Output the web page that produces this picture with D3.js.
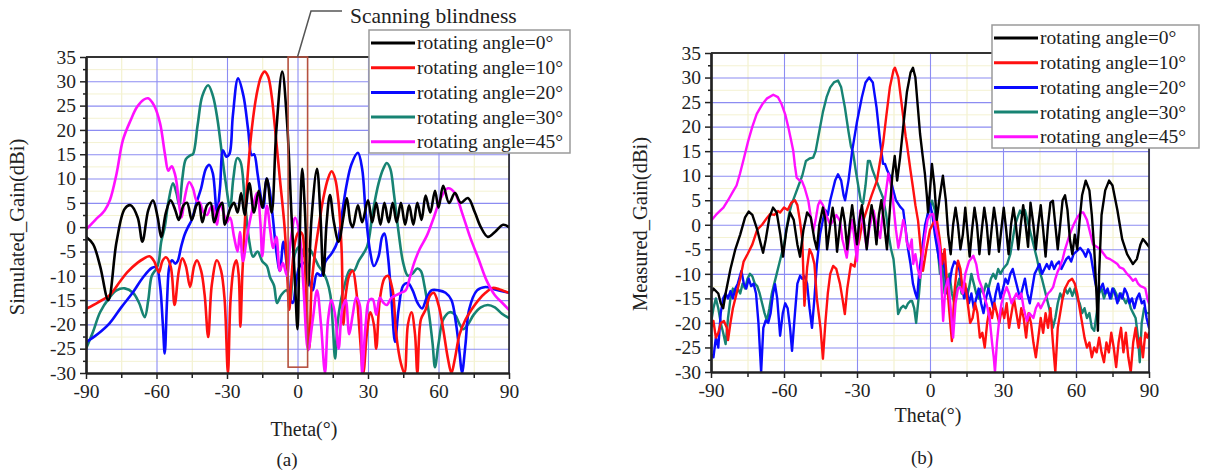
<!DOCTYPE html>
<html><head><meta charset="utf-8">
<script src="https://cdn.jsdelivr.net/npm/d3@7"></script>
<style>
body{margin:0;background:#fff;}
svg{display:block;}
text{font-family:"Liberation Serif","Times New Roman",serif;fill:#222;}
</style>
</head><body><svg id="c" width="1207" height="474"></svg>
<script>
// ---------------- data ----------------
const thetaTicks = [-90,-60,-30,0,30,60,90];
const thetaMinor = [-75,-45,-15,15,45,75];
const gainTicks = [-30,-25,-20,-15,-10,-5,0,5,10,15,20,25,30,35];
const gainMinor = [-27.5,-22.5,-17.5,-12.5,-7.5,-2.5,2.5,7.5,12.5,17.5,22.5,27.5,32.5];
const legendLabels = ["rotating angle=0°","rotating angle=10°","rotating angle=20°","rotating angle=30°","rotating angle=45°"];
const seriesColors = ["#000000","#ff1010","#0a0aff","#178373","#ff10ff"];

// Simulated gain (dBi) vs theta (deg)
const sim0 = [[-90,-2],[-87,-3.5],[-84,-8],[-80.5,-15],[-77,-3],[-73.5,3.8],[-71,4.5],[-68,2],[-66,-3],[-63.5,3.5],[-61.5,5.5],[-59.5,2],[-58,-2],[-56,3],[-54,5.5],[-52,3.5],[-50.5,1.5],[-48.5,4.5],[-47,5],[-45,1.5],[-43,4.5],[-42,5],[-40.5,1],[-38.5,4.5],[-37,5],[-35.5,1],[-33.5,4],[-32,5],[-31,0.5],[-28.5,4],[-27,5],[-25.5,3],[-24,7],[-22.5,2.5],[-20.5,9],[-18.5,3],[-16.5,7.5],[-15,4],[-13,10],[-11,3],[-9,20],[-6.5,32],[-4.5,22],[-2.5,2],[-1,-12],[0,-21],[0.8,-5],[2,12],[3.2,3],[4.5,-12],[6,2],[8.3,12],[9.8,2],[11,-10],[12.4,1],[13.8,6.6],[15.5,1],[17.5,-3],[19.5,2],[21,6],[22.5,1],[23.5,0],[25.7,4.5],[27.5,1],[30,5.5],[31.8,1],[33.5,5],[35.3,0.5],[37,5],[38.8,1],[40.5,5],[42.2,1],[44,5],[45.8,0.5],[47.5,4.5],[49.3,0.5],[51,5],[52.8,1.5],[54.5,6.5],[56.5,3],[58.5,7.5],[60,4],[62,8.5],[64.5,5],[67,7],[69.5,5],[72.5,6],[75.5,3],[78,0],[81,-2],[84,-1],[87.5,0.5],[90,0]];
const sim10 = [[-90,-16.8],[-85,-15.5],[-80,-14],[-76,-11.5],[-72.5,-9.3],[-68,-7.3],[-65.5,-6.5],[-63,-6],[-61,-7],[-59,-9.3],[-57.5,-7],[-56,-6.2],[-54,-8],[-52.3,-16],[-50.5,-9],[-49,-6.4],[-47.5,-8],[-45.7,-12.3],[-44,-8],[-42.8,-6.8],[-41,-9],[-39.5,-14],[-38,-22.6],[-36.5,-12],[-34.3,-6.8],[-32.5,-9],[-31,-15],[-29.6,-30],[-28.5,-15],[-27,-8],[-26,-6.8],[-25,-10],[-24.3,-20.5],[-23.5,-10],[-22.5,0],[-21.3,10],[-19.5,20],[-17.5,27],[-15.5,31],[-14,32],[-12.5,31],[-11,27],[-9.5,20],[-7.5,10],[-5.5,0],[-4.5,-8],[-3.5,-17],[-2.5,-10],[-1,-3],[0.5,-1],[1.9,-1.3],[3,-6],[4,-18],[5,-25],[6,-12],[7.5,-5],[9,0],[11,6],[13,10],[14.5,11.5],[16,10],[17.5,5],[18.8,-5],[19.5,-20],[20.5,-14],[22,-10],[23.5,-9],[25,-13],[26.5,-22],[28,-30],[29.5,-22],[31,-17.5],[32.5,-20],[33.5,-25],[35,-15],[37,-10.5],[38.5,-10],[40.5,-13],[42,-22],[44,-28],[45.5,-30],[47,-20],[48.5,-17.5],[50,-22],[51,-30],[52.5,-19],[54.5,-17],[56.5,-14],[58,-13.5],[60,-16],[62,-21],[64,-27],[65.5,-30],[67,-27],[69,-22],[71.5,-19],[74,-17],[77,-15],[80,-13.5],[83,-12.5],[86,-12.8],[90,-13.5]];
const sim20 = [[-90,-23.7],[-85,-22],[-80,-19.8],[-75,-16.5],[-70,-13.4],[-66,-10.5],[-62,-8.4],[-60,-8.3],[-58.5,-12],[-57.3,-20],[-56.5,-26],[-55.5,-15],[-54.5,-8],[-53.4,-6.8],[-52,-7.5],[-51,-7],[-49.5,-4],[-48,-1.5],[-46.6,0],[-45,1.5],[-43,5],[-41,8],[-39,12],[-37.5,12.8],[-36,11],[-34.3,3],[-33,8],[-31.7,15.8],[-30.3,14.5],[-29,15],[-27.5,23],[-25.3,30.6],[-23,27],[-21,20],[-19.5,14.8],[-18.5,15],[-17,11],[-15.5,6],[-14.5,4],[-13.2,10],[-12,8],[-10.5,2],[-9,-5],[-7.5,-9],[-6,-3],[-4.5,-8],[-3,-15],[-2,-15.6],[-0.5,-11],[1,-8],[3.2,-7.4],[5.5,-12],[6.5,-13],[8.3,-9.5],[10,-10],[12,-7],[14.7,-5.3],[17,-3],[19,3],[21,9],[23,13],[25.7,15.3],[27.5,12],[29,3],[30.9,-5],[32.5,-8],[34.5,-6],[36,-2],[37,-1.3],[38.5,-6],[40,-15],[41.5,-23.6],[43,-17],[45,-12],[47,-11.5],[49,-13],[51,-15.5],[53,-16.7],[55,-14.5],[57,-13],[60,-13],[63,-13.5],[65.5,-15],[67.5,-20],[69,-26],[70,-30],[71.5,-24],[73,-17],[76.4,-13],[80,-12.3],[84,-12.8],[90,-13.5]];
const sim30 = [[-90,-25],[-87,-21.5],[-84,-17.5],[-80,-14.5],[-77,-13],[-73.5,-12.6],[-70,-13.5],[-67.5,-15.5],[-65,-18.5],[-63.5,-15],[-62,-10],[-60,-8.5],[-59,-7],[-58,-3],[-56.5,0],[-55,5],[-53,9],[-51.5,7],[-50.3,4.5],[-49,10],[-47.5,14],[-45.5,14.8],[-44.5,15],[-42.5,21],[-40.5,27],[-38,29.2],[-36,27],[-34,22],[-32.1,14.8],[-30.5,9],[-28.7,4],[-27.3,10],[-25.7,14.2],[-24.3,13.5],[-22.5,6],[-20.5,-3],[-18.9,-6.1],[-17,-5],[-15,-7],[-13,-8],[-11.7,-10.3],[-10,-12],[-8.7,-15.6],[-7,-14],[-4.5,-13],[-3.2,-15.4],[-1,-5.3],[1,-4],[3,-6],[5,-4.5],[7,-6],[9,-8],[10.8,-9.2],[12.5,-11],[14,-14],[15,-20],[16,-27],[17,-20],[18.5,-15],[20,-12],[22.3,-8.8],[24,-9],[26,-7],[29.6,-4],[32,3],[34.5,9],[36.5,12],[38,13.2],[39.5,12],[41,7],[43,-1],[45,-7.4],[47,-10],[49,-9.5],[51,-8.5],[52.5,-9],[54,-12],[56,-18],[57.5,-24],[58.5,-28.8],[60,-24],[62,-19],[64.8,-17.5],[67,-18],[69,-20],[70.5,-21],[72.5,-20],[75,-18],[78,-16.5],[81,-16],[84,-16.5],[87,-17.8],[90,-18.7]];
const sim45 = [[-90,-0.5],[-86,1.5],[-82,3.5],[-79.8,5.6],[-77,11],[-74.3,17.9],[-71,22],[-68.3,24.7],[-65.5,26.2],[-63.6,26.5],[-61,25],[-58.5,21.4],[-56.4,15],[-55,11.6],[-54,12.3],[-53.4,12.5],[-52.2,11],[-51.4,9],[-50.2,4],[-49.3,2],[-48,6],[-46.1,9.3],[-44.5,8],[-43,5.5],[-41.5,5],[-40,3],[-38.5,2.5],[-37,4],[-36,4.3],[-35,2],[-34.2,0.5],[-33,5],[-31.5,3],[-30,1],[-28.7,2],[-27,-2],[-25.5,-5],[-24.5,-1],[-23.2,-7],[-21.5,-2],[-19.5,3],[-17.2,7],[-15.8,1],[-15,-6],[-14,0],[-13,4.4],[-11.5,-1],[-10.4,-4.3],[-9,-2],[-7.5,-9],[-6.2,-7.4],[-4.5,-10],[-3,-3],[-1,1.9],[1,-2],[2.5,-12],[4.5,-25.3],[6.5,-19],[8.3,-13],[10,-20],[11.7,-30],[13,-19],[14.5,-15],[16,-18],[17.5,-25],[19,-17],[20.5,-15],[22,-22],[23.5,-18],[25,-14.5],[26.5,-16],[27.5,-30],[29,-20],[30.5,-15],[32,-14.8],[33.5,-18],[35,-14.5],[36.5,-15.5],[38,-16],[40,-14.5],[42,-14],[44,-13.5],[46,-13],[48,-10],[49.6,-7.4],[52,-4.5],[55,-1.8],[58,2],[61,6],[64,8],[67,7],[70,3],[73.4,-2],[77,-6.5],[80.5,-11],[84,-14],[87,-15.5],[90,-17]];

// Measured gain (dBi) vs theta (deg)
const meas0 = [[-90,-14],[-89,-13],[-88,-13.5],[-87,-14],[-86,-16],[-85,-17],[-84,-14],[-82,-9],[-80,-5],[-78,-2],[-76,1.5],[-74.5,2.7],[-73,2],[-71,-1],[-69.5,-4],[-68.6,-5.7],[-67.5,-3],[-66,1.5],[-64.5,3.5],[-63,2.5],[-61.5,-2],[-60.4,-6.5],[-59,-1],[-57.5,2.5],[-56,1],[-54.5,-4],[-53.4,-6.5],[-52,-1],[-50.5,2.5],[-49,1.5],[-47.5,-3],[-46.5,-5],[-45.5,0],[-44,3.5],[-43,1],[-42.3,-5],[-41,0],[-40,3.5],[-39,0],[-38.2,-5.5],[-37,0],[-36,3.5],[-35,0.5],[-34,-5],[-33,0],[-32,4],[-31,0],[-30,-4],[-29,1],[-28,4],[-27,0],[-26,-5],[-25,0],[-24,4],[-23,1],[-22,-4],[-21,2],[-20,5],[-19,1],[-17.7,-5],[-16.5,3],[-15.5,10],[-14.5,14],[-13.5,9],[-12.3,13.7],[-11,20],[-9.5,27],[-8,31],[-7,32],[-6,30],[-5,24],[-4.1,18.6],[-3,14],[-2.1,10.4],[-1.3,6],[-0.8,2.5],[0,7],[0.8,12.4],[1.8,8],[2.8,1],[3.8,5],[5.3,10],[6.5,5],[7.5,-2],[8.5,-6],[9.5,0],[10.5,3.5],[11.5,0],[12.5,-5],[13.5,-2],[14.5,3.5],[15.3,-1],[16.3,-6.5],[17.3,-1],[18.3,3.5],[19.3,0],[20.3,-6],[21.3,-1],[22.3,3.5],[23.3,0],[24.3,-6],[25.3,-1],[26.3,3.5],[27.3,0],[28.3,-5.5],[29.3,-1],[30.3,3.5],[31.3,-1],[32.3,-6],[33.3,0],[34.3,3.5],[35.3,0],[36.3,-5],[37.3,0],[38.3,4],[39.3,0],[40.3,-4.5],[41.3,4.5],[42.5,0],[43.5,-5],[44.5,0],[45.5,4],[46.5,-1],[47.5,-6.5],[48.5,0],[49.5,4.5],[50.5,4.9],[51.5,0],[52.5,-5],[53.5,0],[54.5,5],[55.5,6],[56.5,3],[57.5,-3],[58.5,-6],[59.5,-2],[60.5,-5],[61.5,1],[62.5,6],[64,9],[65.5,7],[66.5,2],[67.5,-5],[68.5,-15],[69,-21.6],[69.5,-10],[70.5,2],[72,7],[73.6,9],[75,8],[77,3],[79,-3],[81,-6],[83.4,-8],[85,-7],[86.5,-4],[87.5,-2.9],[88.5,-3.5],[90,-4.5]];
const meas10 = [[-90,-21],[-89,-19.6],[-88,-23],[-87,-22],[-86,-20],[-84.7,-19.6],[-83.5,-21],[-83,-23.5],[-82,-20],[-81,-17],[-80,-15],[-79,-13],[-78,-11],[-76.6,-7.5],[-75,-6],[-73,-4],[-71,-1],[-69,0],[-67,1.4],[-65.7,2.2],[-64,2],[-62.5,2.8],[-61.6,2.5],[-60,3.5],[-58.5,3],[-57,4.5],[-55.5,5],[-54.5,4],[-53.5,1],[-52.5,-3],[-51.6,-16.5],[-50.5,-8.7],[-49.5,-5],[-48.5,-6],[-47.5,-8],[-46.5,-15],[-45,-21],[-44,-27.3],[-43,-20],[-42,-14],[-41,-10],[-39.8,-8.4],[-38.5,-9],[-37,-12],[-36,-15],[-35,-18.2],[-34,-13],[-32.5,-8],[-31,-8.5],[-30,-5],[-29,-3],[-28,0],[-26,3],[-24,6],[-21.8,9],[-20.5,13],[-19.3,16.5],[-18,22],[-16.5,28],[-15,31.5],[-14.4,32],[-13,30],[-11.5,24],[-10,18],[-9.5,16.5],[-8,11],[-7,7.6],[-6,4],[-4.9,0.8],[-4,-4],[-2.9,-9.4],[-1.5,-5],[0,-1],[1.5,0.5],[2.9,0.8],[4,-3],[5,-8],[6,-5],[7,-12],[8,-18],[9,-23.7],[10,-14],[11,-9],[11.5,-7.3],[12.5,-9],[13.5,-14],[14.5,-12],[15.5,-16],[16.5,-20],[17.5,-19],[18.5,-16],[19.5,-18],[20.5,-23],[21.5,-22],[22.5,-25],[23.5,-20],[24.5,-17],[25.5,-19],[26.5,-16],[27.5,-18],[28.5,-20],[29.5,-17],[30.5,-19],[31.5,-16],[32.5,-21],[33.5,-18],[34.5,-15],[35.5,-18],[36.5,-21],[37.5,-17],[38.5,-19],[39.5,-23],[40.5,-18],[41.5,-20],[42.5,-24],[43.5,-27],[44.5,-23],[45.5,-19],[46.5,-22],[47.5,-18],[48.5,-21],[49.5,-17],[50.5,-24],[51.5,-30],[52.5,-21],[53.5,-18],[54.5,-15],[55.5,-13],[57,-11.5],[58.4,-11],[59.5,-12],[60.5,-14],[61.5,-17],[62.5,-20],[63.5,-23],[64.5,-25],[65.5,-24],[66.5,-27],[67.5,-25],[68.5,-26],[69.5,-23],[70.5,-26],[71.5,-28],[72.5,-24],[73.5,-26],[74.5,-22],[75.5,-25],[76.5,-29],[77.5,-24],[78.5,-21],[79.5,-26],[80.5,-22],[81.5,-27],[82.5,-30],[83.5,-24],[84.5,-21],[85.5,-25],[86.5,-23],[87.5,-27],[88.5,-22],[89.3,-23],[90,-22]];
const meas20 = [[-90,-26.4],[-89,-27],[-88,-23],[-87,-25],[-86,-18],[-85,-15],[-84,-14],[-83,-15],[-82,-13.5],[-81,-15],[-80,-13],[-79,-12],[-77.5,-9.4],[-76.5,-12],[-75.5,-13],[-74.5,-11],[-73.5,-12.5],[-72.5,-12],[-71.5,-14],[-70.5,-20],[-69.4,-30],[-68.5,-21],[-67.5,-19.5],[-66.5,-20],[-65.5,-18],[-64.5,-14],[-63.7,-12.1],[-62.8,-15],[-61.6,-22.6],[-60.5,-18],[-59.5,-16],[-58.5,-17],[-57.5,-21],[-56.7,-25.7],[-55.5,-18],[-54.5,-12],[-53.4,-10.4],[-52.5,-11],[-51.5,-10.5],[-50.5,-12],[-49.5,-17],[-48.5,-21],[-47.5,-15],[-46.5,-8],[-45.2,-2],[-44,1],[-43,3],[-42,2],[-41,5],[-40,7],[-39,9],[-37.8,10.3],[-36.5,9],[-35.5,6],[-34.9,5],[-33.5,9],[-32,15],[-30,21],[-28,26],[-26.5,29],[-25,30],[-23.5,29],[-22,24],[-20.5,17],[-19.3,12.4],[-18.5,12.4],[-17.5,11],[-16.5,10],[-15.1,7],[-14,5],[-12.3,3.7],[-11,3],[-10,-1],[-9,-5],[-8,-8],[-7,-12],[-6,-14],[-5.3,-15],[-4.5,-10],[-3.5,-6],[-2,0],[-1,2],[0,4.3],[1,2],[2,-2],[3,-5],[4.1,-8],[5,-6],[6,-9],[7,-14],[8,-12],[9,-9],[10,-7.5],[11,-8],[12,-9],[13,-12],[14,-15],[15,-13],[16,-16],[17,-14],[18,-17],[19,-15],[20,-13],[21,-16],[22,-18],[23,-15],[24,-13],[25,-15],[26,-17],[27,-14],[28,-12],[29,-15],[30,-13],[31,-11],[32,-12],[33,-10],[34,-9],[35,-11],[36,-13],[37,-15],[38,-13],[39,-11],[40,-14],[41,-16],[42,-13],[43,-10],[44,-9],[45,-8],[46,-10],[47,-9],[48,-8],[49,-9],[50,-7.5],[51,-9],[52,-8],[53,-7.5],[54,-9],[55,-8],[56,-7],[57,-6.5],[58,-7.5],[59,-6],[60,-5.5],[61.7,-4.7],[63,-5.5],[64,-6.5],[65,-5],[66,-6],[67,-9],[68,-12],[69,-14],[70,-13],[71,-12],[72,-14],[73,-13],[74,-15],[75,-13],[76,-14],[77,-16],[78,-14],[79,-15],[80,-13],[81,-14],[82,-16],[83,-15],[84,-17],[85,-15],[86,-14],[87,-16],[88,-15.5],[89,-19],[90,-21]];
const meas30 = [[-90,-20],[-89,-17],[-88,-15],[-87,-17],[-86,-20],[-85,-22],[-84,-24.3],[-83,-19],[-82,-15],[-81,-13],[-80,-14],[-79,-13],[-78,-14],[-77,-12],[-76,-13],[-75,-11],[-74,-10],[-73,-10.5],[-72,-12],[-71,-12.5],[-70,-14],[-69,-16],[-68,-18],[-67,-19.6],[-66,-17],[-65,-14],[-64,-12],[-63,-10],[-62,-8],[-61,-6],[-60,-4],[-59,-1],[-58,2],[-57,4],[-55.5,6],[-54,8],[-52.5,10],[-51,13],[-49.5,13.5],[-48,13.7],[-47,15],[-45.5,19],[-44,23],[-42.5,26],[-41,28],[-39.5,29],[-37.8,29.4],[-36.5,28],[-35,24],[-33.5,19],[-32.5,16],[-31.6,14.7],[-30.5,11],[-29.5,8],[-28.5,5],[-27.5,4.3],[-26.5,8],[-25.5,13],[-24.7,13],[-23.5,11],[-22,9],[-20.5,7],[-19.3,5.5],[-18,2],[-17,-2],[-16,-5],[-15,-7],[-14.4,-10],[-13.1,-18.2],[-12,-17],[-11,-16.5],[-10,-17],[-9,-16],[-8,-15.5],[-7.4,-15.5],[-6.5,-17],[-5.7,-20],[-4.5,-14],[-3.5,-8],[-2.5,-3],[-1,2],[0.8,4.9],[2,3],[3,-4],[4.1,-10],[5,-8],[6,-14],[7,-12],[8,-10],[9,-14],[10,-16],[11,-13],[12,-11],[13,-14],[14,-12],[15,-15],[16,-13],[17,-10],[18,-12],[19,-14],[20,-15],[21,-13],[22,-14],[23,-12],[24,-13],[25,-11],[26,-10],[27,-11],[28,-9],[29,-10],[30,-9],[31.7,-8],[33,-6],[34,-3],[35,0],[36,1.5],[37,2.9],[38,2],[39,3],[40,1],[41,-1],[42,-3],[43,-5],[44,-7],[45,-9.4],[46,-11],[47,-13],[48,-15],[49,-17],[50.5,-21],[51.5,-19],[52.5,-16],[53.5,-14],[54.5,-15],[55.5,-13],[56.5,-14],[57.5,-13],[58.5,-14.5],[59.5,-13],[60.5,-15],[61.5,-16],[62.5,-18],[63.5,-17],[64.5,-19],[65.5,-18],[66.5,-21],[67.5,-21.6],[68.5,-18],[69.5,-14],[70.5,-13],[71.5,-15],[72.5,-13.5],[73.5,-14],[74.5,-15],[75.5,-13],[76.5,-14],[77.5,-15.5],[78.5,-14],[79.5,-15],[80.5,-16],[81.5,-15],[82.5,-17],[83.5,-18],[84.5,-19],[85.5,-23],[86.2,-28],[87,-20],[88,-17],[89,-18],[90,-18]];
const meas45 = [[-90,0.8],[-88,2],[-86,3],[-84.9,3.5],[-83,5],[-80.8,6.9],[-79.5,8],[-78.1,10.4],[-76.5,13.5],[-74.7,17.1],[-73,20],[-71.2,22.6],[-69,24.5],[-67.1,25.7],[-64.4,26.5],[-62.5,26],[-61,24.6],[-59.5,22.5],[-58.2,19.8],[-57,17],[-56.2,15.1],[-55.5,12],[-54.8,9.6],[-53.5,9],[-52.7,9],[-51.5,7.5],[-50,4.9],[-48.8,1],[-47.9,-1.2],[-47,1],[-46,4],[-45.2,4.9],[-44,4],[-42.5,1.8],[-41,0],[-39.7,0.8],[-38.5,2],[-37,0.8],[-36,-3],[-35,-5],[-34.2,-6.7],[-33,-2],[-32,1],[-31,-3],[-30,-7.4],[-29.3,-2],[-28.7,2.9],[-27.5,0],[-26,-4.7],[-25,-1],[-24,1.5],[-23.2,2.9],[-22,0],[-20.5,-2.7],[-19.5,2],[-18.3,6],[-17.1,10.4],[-16,8],[-15.1,4.3],[-14,-1],[-13,-4.7],[-12,-2],[-11,1],[-10,-1],[-9.6,-3.5],[-8.5,-5],[-7.5,-3],[-6.9,-8],[-6,-6],[-5,-9],[-4.1,-10.8],[-3,-6],[-2,-2],[-1,1],[0,2],[1.3,2.2],[2.5,-1],[4,-4.7],[5.4,-19.6],[6.3,-13],[7.4,-11],[8.5,-17],[9.5,-23],[10.5,-16],[11.5,-13],[12.3,-12.7],[13.5,-14],[14.5,-10],[16,-7.5],[17.8,-6.3],[19,-8],[20,-11],[21.5,-13],[22.5,-15],[23.3,-16.2],[24.5,-19],[25.5,-24],[26.2,-27],[26.7,-30],[27.5,-24],[28.5,-19],[29.4,-16],[30.5,-14],[31.5,-12.7],[32.5,-14],[33.5,-16],[34.2,-15.3],[35.5,-14],[36.5,-15],[37.5,-14],[38.5,-17],[39.8,-19.6],[40.8,-18],[42.5,-19],[43.5,-17],[44.5,-16],[45.5,-17],[46.5,-16],[47.5,-15],[48.5,-14],[49.5,-13.5],[50.6,-12.7],[51.5,-11],[52.5,-9.5],[53.3,-8.7],[54.5,-7],[55.5,-5],[57.4,-2],[59,0],[60.5,1.5],[62,2.5],[63,2.5],[64.5,1],[65.5,-1],[67,-4],[68.5,-4.5],[70,-5],[71.5,-6],[72.5,-6.7],[74,-7],[75.5,-7.5],[77,-8],[78,-8.7],[79.5,-9],[81,-10],[82,-10.5],[83.4,-11.4],[84.5,-11],[85.5,-12],[86.5,-12.5],[87.5,-12.7],[88.5,-13],[89.3,-15],[90,-16]];

const simSeries = [sim0, sim10, sim20, sim30, sim45];
const measSeries = [meas0, meas10, meas20, meas30, meas45];
const blindRegion = {theta:[-4, 4.3], gain:[35, -28.8]};

// ---------------- drawing ----------------
const FONT = '"Liberation Serif","Times New Roman",serif';
const svg = d3.select("#c");
const drawOrder = [3, 2, 1, 4, 0];
const fmt = d => String(d);

function panel(cfg) {
  const x = d3.scaleLinear().domain([-90, 90]).range([cfg.x0, cfg.x1]);
  const y = d3.scaleLinear().domain([-30, 35]).range([cfg.y0, cfg.y1]);
  const W = cfg.x1 - cfg.x0, H = cfg.y0 - cfg.y1;
  const g = svg.append("g");

  // minor grid (faint yellow)
  g.append("g").attr("transform", `translate(0,${cfg.y0})`)
    .call(d3.axisBottom(x).tickValues(thetaMinor).tickSize(-H).tickFormat(""))
    .call(s => { s.select(".domain").remove(); s.selectAll("line").attr("stroke", "#f1efc6").attr("stroke-width", 1); });
  g.append("g").attr("transform", `translate(${cfg.x0},0)`)
    .call(d3.axisLeft(y).tickValues(gainMinor).tickSize(-W).tickFormat(""))
    .call(s => { s.select(".domain").remove(); s.selectAll("line").attr("stroke", "#f4f2d2").attr("stroke-width", 1); });
  // major grid (blue)
  g.append("g").attr("transform", `translate(0,${cfg.y0})`)
    .call(d3.axisBottom(x).tickValues(thetaTicks).tickSize(-H).tickFormat(""))
    .call(s => { s.select(".domain").remove(); s.selectAll("line").attr("stroke", "#8c8cf2").attr("stroke-width", 1.1); });
  g.append("g").attr("transform", `translate(${cfg.x0},0)`)
    .call(d3.axisLeft(y).tickValues(gainTicks).tickSize(-W).tickFormat(""))
    .call(s => { s.select(".domain").remove(); s.selectAll("line").attr("stroke", "#8c8cf2").attr("stroke-width", 1.1); });

  // clip
  const cid = "clip" + cfg.id;
  svg.append("defs").append("clipPath").attr("id", cid)
    .append("rect").attr("x", cfg.x0).attr("y", cfg.y1 - 2).attr("width", W).attr("height", H + 2);

  const line = d3.line().x(d => x(d[0])).y(d => y(d[1])).curve(cfg.curve);
  const lg = g.append("g").attr("clip-path", `url(#${cid})`);
  drawOrder.forEach(i => {
    lg.append("path").datum(cfg.series[i])
      .attr("d", line).attr("fill", "none")
      .attr("stroke", seriesColors[i]).attr("stroke-width", cfg.lw)
      .attr("stroke-linejoin", "round").attr("stroke-linecap", "round");
  });

  // frame: top and right
  g.append("line").attr("x1", cfg.x0).attr("x2", cfg.x1).attr("y1", cfg.y1).attr("y2", cfg.y1)
    .attr("stroke", "#333").attr("stroke-width", 2);
  g.append("line").attr("x1", cfg.x1).attr("x2", cfg.x1).attr("y1", cfg.y1).attr("y2", cfg.y0)
    .attr("stroke", "#222").attr("stroke-width", 1.6);

  // axes
  const ax = g.append("g").attr("transform", `translate(0,${cfg.y0})`)
    .call(d3.axisBottom(x).tickValues(thetaTicks).tickSize(6).tickSizeOuter(0).tickPadding(5).tickFormat(fmt));
  const axm = g.append("g").attr("transform", `translate(0,${cfg.y0})`)
    .call(d3.axisBottom(x).tickValues(thetaMinor).tickSize(5).tickSizeOuter(0).tickFormat(""));
  const ay = g.append("g").attr("transform", `translate(${cfg.x0},0)`)
    .call(d3.axisLeft(y).tickValues(gainTicks).tickSize(6).tickSizeOuter(0).tickPadding(4).tickFormat(fmt));
  const aym = g.append("g").attr("transform", `translate(${cfg.x0},0)`)
    .call(d3.axisLeft(y).tickValues(gainMinor).tickSize(3).tickSizeOuter(0).tickFormat(""));
  [ax, axm, ay, aym].forEach(a => {
    a.attr("font-family", FONT).attr("font-size", 19.5);
    a.select(".domain").attr("stroke", "#222").attr("stroke-width", 2.2);
    a.selectAll(".tick line").attr("stroke", "#222").attr("stroke-width", 1.5);
    a.selectAll(".tick text").attr("fill", "#222");
  });

  // axis titles
  g.append("text").attr("x", cfg.xTitle[0]).attr("y", cfg.xTitle[1])
    .attr("text-anchor", "middle").attr("font-size", 20).text("Theta(°)");
  g.append("text").attr("transform", `translate(${cfg.yTitle[0]},${cfg.yTitle[1]}) rotate(-90)`)
    .attr("text-anchor", "middle").attr("font-size", 20.5).text(cfg.yLabel);
  g.append("text").attr("x", cfg.tag[0]).attr("y", cfg.tag[1])
    .attr("text-anchor", "middle").attr("font-size", 19).text(cfg.tagText);

  return {x, y, g};
}

function legend(lx, ly, lgw) {
  const lgh = 123, rowH = 24.7;
  const g = svg.append("g").attr("transform", `translate(${lx},${ly})`);
  g.append("rect").attr("width", lgw).attr("height", lgh).attr("fill", "#fff")
    .attr("stroke", "#9a9a9a").attr("stroke-width", 1.5);
  legendLabels.forEach((lab, i) => {
    const cy = 13 + i * rowH;
    g.append("line").attr("x1", 2).attr("x2", 46).attr("y1", cy).attr("y2", cy)
      .attr("stroke", seriesColors[i]).attr("stroke-width", 3);
    g.append("text").attr("x", 48).attr("y", cy).attr("dy", "0.33em")
      .attr("font-size", 19.5).text(lab);
  });
}

// Panel (a) simulated
const pa = panel({
  id: "a", x0: 86, x1: 509, y0: 373, y1: 57, series: simSeries,
  curve: d3.curveCatmullRom.alpha(0.5), lw: 2.6,
  xTitle: [304, 436], yTitle: [24, 227], yLabel: "Simulated_Gain(dBi)",
  tag: [287, 466], tagText: "(a)"
});
// scanning blindness box
pa.g.append("rect")
  .attr("x", pa.x(blindRegion.theta[0])).attr("y", pa.y(blindRegion.gain[0]))
  .attr("width", pa.x(blindRegion.theta[1]) - pa.x(blindRegion.theta[0]))
  .attr("height", pa.y(blindRegion.gain[1]) - pa.y(blindRegion.gain[0]))
  .attr("fill", "none").attr("stroke", "#b5513f").attr("stroke-width", 1.6);
pa.g.append("polyline")
  .attr("points", `${pa.x(0)},${pa.y(35)} 311,11 342,11`)
  .attr("fill", "none").attr("stroke", "#555").attr("stroke-width", 1.5);
pa.g.append("text").attr("x", 350).attr("y", 23).attr("font-size", 21.5).text("Scanning blindness");
legend(369, 30, 201);

// Panel (b) measured
panel({
  id: "b", x0: 711, x1: 1149, y0: 372, y1: 53, series: measSeries,
  curve: d3.curveLinear, lw: 2.4,
  xTitle: [928, 422], yTitle: [647, 224], yLabel: "Measured_Gain(dBi)",
  tag: [922, 464], tagText: "(b)"
});
legend(992, 25, 207);
</script>
</body></html>
